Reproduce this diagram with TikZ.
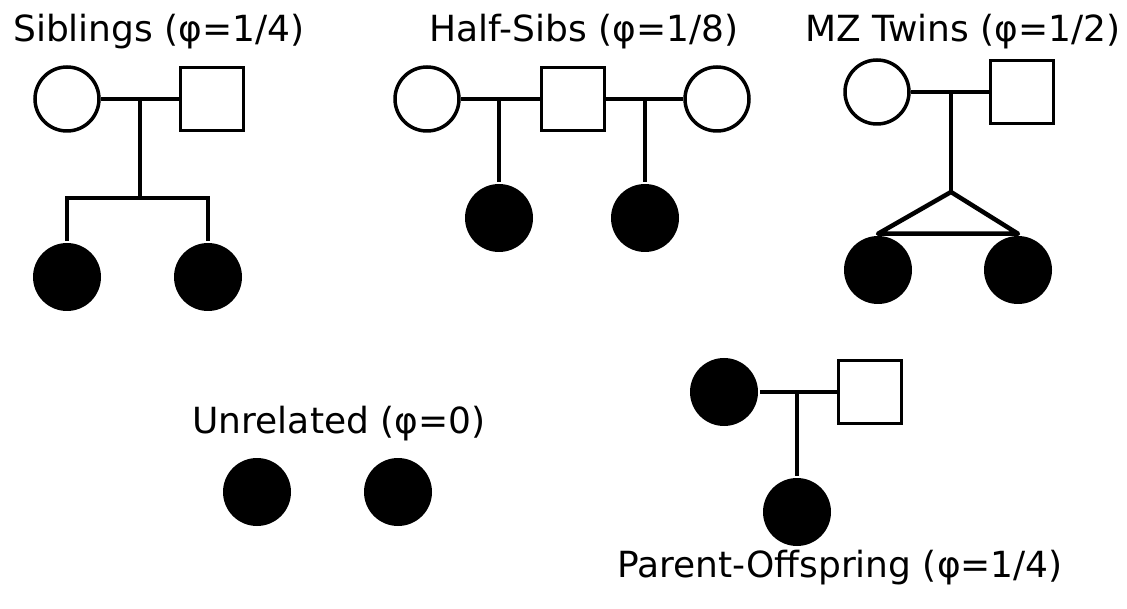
\documentclass[tikz,border=0pt]{standalone}
\usepackage{fontspec}
\setmainfont{DejaVu Sans}
\usepackage{tikz}

\begin{document}
\begin{tikzpicture}[x=1pt,y=-1pt,line width=4.5pt,
    female node/.style={circle,draw,fill=white,inner sep=0pt,minimum size=64pt,line width=3.5pt},
    male node/.style={rectangle,draw,fill=white,inner sep=0pt,minimum size=63pt,line width=3.5pt},
    affected node/.style={circle,fill=black,inner sep=0pt,minimum size=68pt},
    title node/.style={anchor=base,inner sep=0pt,font=\fontsize{36}{40}\selectfont}]
  \useasboundingbox (0,0) rectangle (1127,609);

  % siblings
  \node[title node] (t1) at (159,42) {Siblings (φ=1/4)};
  \node[female node] (1) at (67,99) {};
  \node[male node] (2) at (212,99) {};
  \node[affected node] (3) at (67,277) {};
  \node[affected node] (4) at (208,277) {};
  \coordinate (j1) at (140,99);
  \coordinate (j2) at (140,198);
  \draw (1) -- (2);
  \draw (j1) -- (j2);
  \draw (3) |- (j2) -| (4);

  % half-sibs
  \node[title node] (t2) at (584,42) {Half-Sibs (φ=1/8)};
  \node[female node] (5) at (427,99) {};
  \node[male node] (6) at (573,99) {};
  \node[female node] (7) at (717,99) {};
  \node[affected node] (8) at (499,218) {};
  \node[affected node] (9) at (645,218) {};
  \coordinate (j3) at (499,99);
  \coordinate (j4) at (645,99);
  \draw (5) -- (6) -- (7);
  \draw (j3) -- (8);
  \draw (j4) -- (9);

  % mz twins
  \node[title node] (t3) at (963,42) {MZ Twins (φ=1/2)};
  \node[female node] (10) at (877,92) {};
  \node[male node] (11) at (1022,92) {};
  \node[affected node] (12) at (878,270) {};
  \node[affected node] (13) at (1018,270) {};
  \coordinate (j5) at (951,92);
  \coordinate (j6) at (951,192);
  \draw (10) -- (11);
  \draw (j5) -- (j6);
  \draw[line join=round] (12.north) -- (j6) -- (13.north) -- cycle;

  % unrelated
  \node[title node] (t4) at (339,433) {Unrelated (φ=0)};
  \node[affected node] (14) at (257,492) {};
  \node[affected node] (15) at (398,492) {};

  % parent-offspring
  \node[affected node] (16) at (724,392) {};
  \node[male node] (17) at (870,392) {};
  \node[affected node] (18) at (797,512) {};
  \node[title node] (t5) at (840,577) {Parent-Offspring (φ=1/4)};
  \coordinate (j7) at (797,392);
  \draw (16) -- (17);
  \draw (j7) -- (18);
\end{tikzpicture}
\end{document}
